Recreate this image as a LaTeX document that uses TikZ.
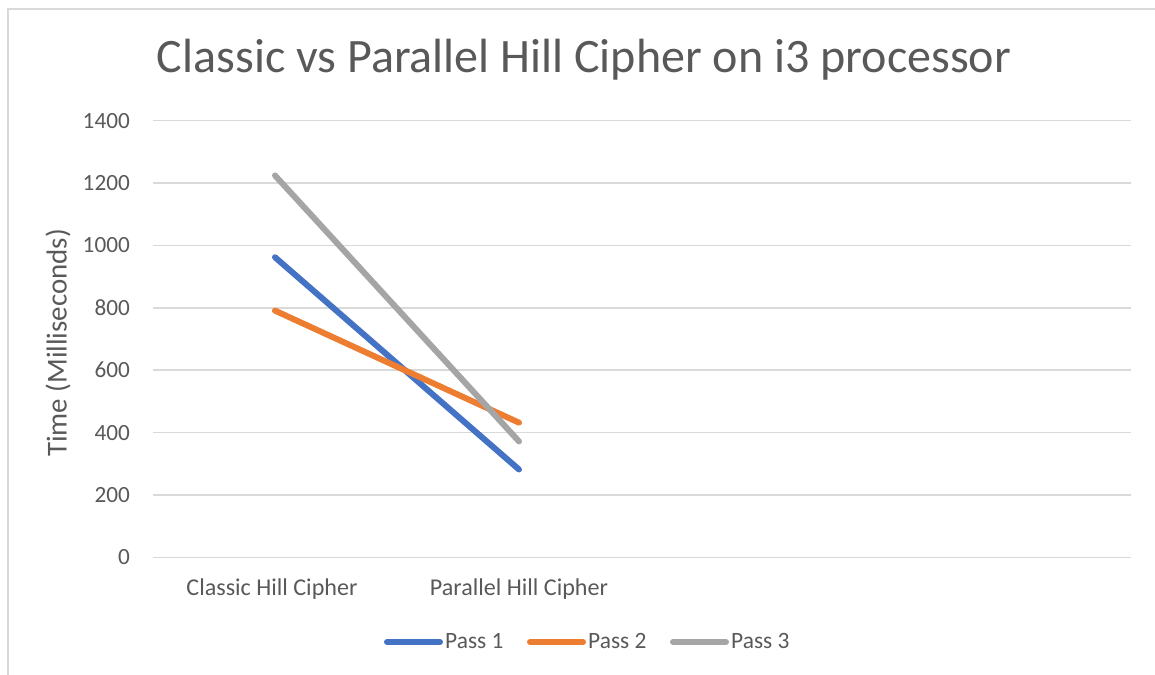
\documentclass[tikz,border=0pt]{standalone}
\usepackage{fontspec}
\setmainfont{Carlito}
\definecolor{txt}{HTML}{595959}
\definecolor{grid}{HTML}{D9D9D9}
\definecolor{frame}{HTML}{D9D9D9}
\definecolor{pone}{HTML}{4472C4}
\definecolor{ptwo}{HTML}{ED7D31}
\definecolor{pthree}{HTML}{A5A5A5}
\begin{document}
\begin{tikzpicture}[x=1bp,y=-1bp,
  gridline/.style={draw=grid,line width=1.5bp},
  ticklabel/.style={anchor=east,text=txt,font=\fontsize{23.3}{26}\selectfont,inner sep=0pt},
  catlabel/.style={anchor=center,text=txt,font=\fontsize{24.2}{27}\selectfont,inner sep=0pt},
  series/.style={line width=6bp,line cap=round},
  legendtext/.style={anchor=west,text=txt,font=\fontsize{23.5}{26}\selectfont,inner sep=0pt}]
  \useasboundingbox (0,0) rectangle (1155,675);
  % chart frame (top and left edges)
  \draw[frame,line width=1.5bp] (1155,9) -- (8,9) -- (8,675);
  % title
  \node[text=txt,font=\fontsize{48.2}{54}\selectfont,inner sep=0pt] (title) at (584,60) {Classic vs Parallel Hill Cipher on i3 processor};
  % horizontal gridlines and value axis labels
  \foreach \v [evaluate=\v as \yy using 557.5-\v*0.3121] in {0,200,...,1400}{
    \draw[gridline] (153,\yy) -- (1131,\yy);
    \node[ticklabel] (tick\v) at (130,\yy) {\v};
  }
  % axis title
  \node[rotate=90,text=txt,font=\fontsize{29}{32}\selectfont,inner sep=0pt] (ytitle) at (58,343) {Time (Milliseconds)};
  % category labels
  \node[catlabel] (catA) at (272,589) {Classic Hill Cipher};
  \node[catlabel] (catB) at (519,589) {Parallel Hill Cipher};
  % data points
  \coordinate (a1) at (275,{557.5-962*0.3121});
  \coordinate (b1) at (519,{557.5-282*0.3121});
  \coordinate (a2) at (275,{557.5-791*0.3121});
  \coordinate (b2) at (519,{557.5-432*0.3121});
  \coordinate (a3) at (275,{557.5-1224*0.3121});
  \coordinate (b3) at (519,{557.5-372*0.3121});
  % series lines
  \draw[series,pone] (a1) -- (b1);
  \draw[series,ptwo] (a2) -- (b2);
  \draw[series,pthree] (a3) -- (b3);
  % legend
  \coordinate (l1s) at (387,642); \coordinate (l1e) at (440,642);
  \coordinate (l2s) at (530,642); \coordinate (l2e) at (583,642);
  \coordinate (l3s) at (673,642); \coordinate (l3e) at (726,642);
  \draw[series,pone] (l1s) -- (l1e);
  \draw[series,ptwo] (l2s) -- (l2e);
  \draw[series,pthree] (l3s) -- (l3e);
  \node[legendtext] (leg1) at (445,641) {Pass 1};
  \node[legendtext] (leg2) at (588,641) {Pass 2};
  \node[legendtext] (leg3) at (731,641) {Pass 3};
\end{tikzpicture}
\end{document}
